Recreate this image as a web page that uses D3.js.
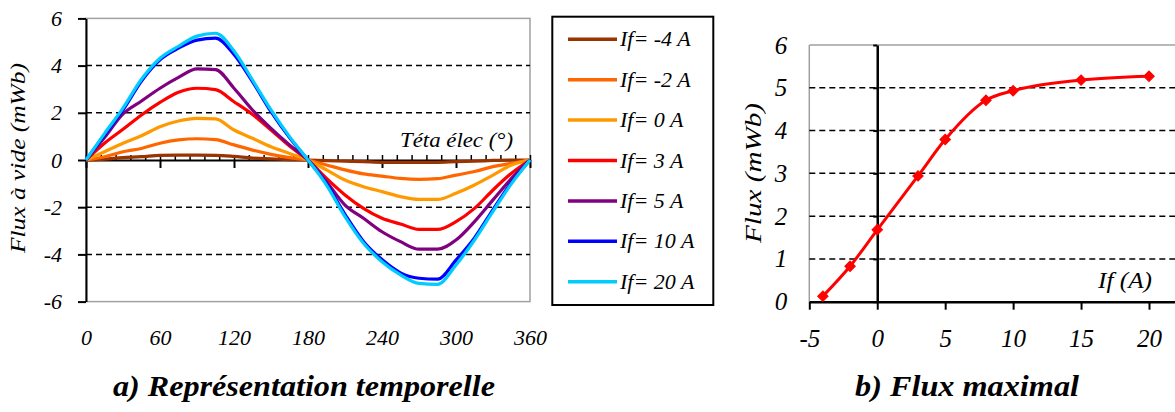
<!DOCTYPE html>
<html><head><meta charset="utf-8">
<script src="https://cdn.jsdelivr.net/npm/d3@7"></script>
<style>
body{margin:0;background:#fff}
svg{display:block}
</style>
</head><body>
<svg id="c" width="1175" height="412"></svg>
<script>
// ---- data: left chart (flux vs electrical angle) ----
const angles = [0,15,30,45,60,75,90,105,120,135,150,165,180,195,210,225,240,255,270,285,300,315,330,345,360];
const fluxIfM4 = [0,0.04,0.1,0.14,0.2,0.21,0.21,0.2,0.15,0.08,0.05,0.02,0,-0.03,-0.05,-0.07,-0.1,-0.1,-0.1,-0.1,-0.07,-0.05,-0.02,0,0];
const fluxIfM2 = [0,0.14,0.35,0.49,0.71,0.85,0.9,0.86,0.64,0.42,0.24,0.1,0,-0.21,-0.42,-0.59,-0.68,-0.78,-0.82,-0.79,-0.64,-0.49,-0.28,-0.14,0];
const fluxIf0  = [0,0.35,0.71,1.03,1.41,1.65,1.76,1.74,1.27,0.92,0.56,0.28,0,-0.42,-0.85,-1.13,-1.34,-1.55,-1.67,-1.67,-1.41,-1.06,-0.64,-0.21,0];
const fluxIf3  = [0,0.71,1.3,1.91,2.44,2.87,3.04,2.98,2.47,1.93,1.27,0.59,0,-0.78,-1.48,-2.05,-2.47,-2.71,-2.94,-2.94,-2.61,-2.05,-1.27,-0.56,0];
const fluxIf5  = [0,0.95,1.95,2.5,3.04,3.5,3.86,3.83,3.04,2.12,1.34,0.64,0,-0.92,-1.91,-2.47,-3.04,-3.46,-3.78,-3.78,-3.39,-2.61,-1.69,-0.78,0];
const fluxIf10 = [0,1.06,2.12,3.35,4.25,4.74,5.08,5.16,4.47,3.32,2.05,0.95,0,-1.0,-2.3,-3.45,-4.22,-4.78,-5.01,-5.05,-4.24,-3.3,-2.1,-0.95,0];
const fluxIf20 = [0,1.12,2.2,3.42,4.31,4.82,5.25,5.37,4.62,3.39,2.12,0.99,0,-1.06,-2.4,-3.53,-4.31,-4.87,-5.23,-5.27,-4.45,-3.39,-2.18,-1.0,0];
const seriesNames = ["If= -4 A","If= -2 A","If= 0 A","If= 3 A","If= 5 A","If= 10 A","If= 20 A"];
const seriesColors = ["#993300","#FF6600","#FF9900","#FF0000","#800080","#0000FF","#00CCFF"];
const seriesValues = [fluxIfM4,fluxIfM2,fluxIf0,fluxIf3,fluxIf5,fluxIf10,fluxIf20];
const leftXTicks = [0,60,120,180,240,300,360];
const leftYTicks = [-6,-4,-2,0,2,4,6];
const leftGrid = [-4,-2,2,4];

// ---- data: right chart (max flux vs field current) ----
const ifValues = [-4,-2,0,3,5,8,10,15,20];
const fluxMax  = [0.13,0.83,1.68,2.94,3.79,4.71,4.93,5.18,5.27];
const rightXTicks = [-5,0,5,10,15,20];
const rightYTicks = [0,1,2,3,4,5,6];
const rightGrid = [1,2,3,4,5];

const FONT = "'Liberation Serif', 'Times New Roman', serif";
const fmt = d => String(d);

const svg = d3.select("#c");
function styleText(sel, size){
  sel.attr("font-family",FONT).attr("font-style","italic").attr("font-size",size).attr("fill","#000");
}

// ===== LEFT CHART =====
const xL = d3.scaleLinear().domain([0,360]).range([86,530]);
const yL = d3.scaleLinear().domain([-6,6]).range([301.6,18.4]);

svg.append("rect").attr("x",xL(0)).attr("y",yL(6)).attr("width",xL(360)-xL(0)).attr("height",yL(-6)-yL(6))
  .attr("fill","none").attr("stroke","#a0a0a0").attr("stroke-width",1.5);

svg.append("g").selectAll("line").data(leftGrid).join("line")
  .attr("x1",xL(0)).attr("x2",xL(360)).attr("y1",d=>yL(d)).attr("y2",d=>yL(d))
  .attr("stroke","#000").attr("stroke-width",1.5).attr("stroke-dasharray","6,4");

const gYL = svg.append("g").attr("transform",`translate(${xL(0)},0)`)
  .call(d3.axisLeft(yL).tickValues(leftYTicks).tickSize(8).tickSizeOuter(0).tickPadding(16).tickFormat(fmt));
gYL.select(".domain").attr("stroke","#000").attr("stroke-width",2);
gYL.selectAll(".tick line").attr("stroke","#000").attr("stroke-width",2);
styleText(gYL.selectAll("text"),22);

const minorTicks = d3.range(0,361,12);
const gXL = svg.append("g").attr("transform",`translate(0,${yL(0)})`)
  .call(d3.axisBottom(xL).tickValues(leftXTicks).tickSize(8).tickSizeOuter(0).tickFormat(""));
gXL.select(".domain").attr("stroke","#000").attr("stroke-width",2);
gXL.selectAll(".tick line").attr("stroke","#000").attr("stroke-width",2);
const gXL2 = svg.append("g").attr("transform",`translate(0,${yL(0)})`)
  .call(d3.axisTop(xL).tickValues(minorTicks).tickSize(5).tickSizeOuter(0).tickFormat(""));
gXL2.select(".domain").remove();
gXL2.selectAll(".tick line").attr("stroke","#000").attr("stroke-width",1.5);

const gXLlab = svg.append("g").attr("transform",`translate(0,${yL(-6)})`)
  .call(d3.axisBottom(xL).tickValues(leftXTicks).tickSize(0).tickPadding(28).tickFormat(fmt));
gXLlab.select(".domain").remove();
styleText(gXLlab.selectAll("text"),22);

const lineL = d3.line().x((d,i)=>xL(angles[i])).y(d=>yL(d)).curve(d3.curveMonotoneX);
svg.append("g").selectAll("path").data(seriesValues).join("path")
  .attr("d",d=>lineL(d)).attr("fill","none")
  .attr("stroke",(d,i)=>seriesColors[i]).attr("stroke-width",3.2).attr("stroke-linejoin","round");

styleText(svg.append("text").attr("transform",`translate(25,158) rotate(-90)`).attr("text-anchor","middle")
  .attr("textLength",190).attr("lengthAdjust","spacingAndGlyphs").text("Flux à vide (mWb)"),21);
styleText(svg.append("text").attr("x",513).attr("y",147).attr("text-anchor","end")
  .attr("textLength",113).attr("lengthAdjust","spacingAndGlyphs").text("Téta élec (°)"),22);

svg.append("rect").attr("x",552.3).attr("y",16.7).attr("width",161).attr("height",288.3)
  .attr("fill","#fff").attr("stroke","#000").attr("stroke-width",2);
const leg = svg.append("g").selectAll("g").data(seriesNames).join("g")
  .attr("transform",(d,i)=>`translate(568,${39.3+i*40.4})`);
leg.append("line").attr("x1",0).attr("x2",49).attr("y1",0).attr("y2",0)
  .attr("stroke",(d,i)=>seriesColors[i]).attr("stroke-width",3.5);
styleText(leg.append("text").attr("x",52).attr("y",7).text(d=>d),22);

// ===== RIGHT CHART =====
const xR = d3.scaleLinear().domain([-5,22]).range([809.3,809.3+27*13.588]);
const yR = d3.scaleLinear().domain([0,6]).range([301.7,45]);

svg.append("line").attr("x1",xR(-5)).attr("x2",1175).attr("y1",yR(6)).attr("y2",yR(6)).attr("stroke","#a0a0a0").attr("stroke-width",1.5);
svg.append("line").attr("x1",xR(-5)).attr("x2",xR(-5)).attr("y1",yR(6)).attr("y2",yR(0)).attr("stroke","#a0a0a0").attr("stroke-width",1.5);

svg.append("g").selectAll("line").data(rightGrid).join("line")
  .attr("x1",xR(-5)).attr("x2",1175).attr("y1",d=>yR(d)).attr("y2",d=>yR(d))
  .attr("stroke","#000").attr("stroke-width",1.5).attr("stroke-dasharray","6,4");

const gYR = svg.append("g").attr("transform",`translate(${xR(0)},0)`)
  .call(d3.axisLeft(yR).tickValues(rightYTicks).tickSize(4).tickSizeOuter(0).tickFormat(""));
gYR.select(".domain").attr("stroke","#000").attr("stroke-width",2.5);
gYR.selectAll(".tick line").attr("stroke","#000").attr("stroke-width",2);
const gYRlab = svg.append("g").attr("transform",`translate(${xR(-5)},0)`)
  .call(d3.axisLeft(yR).tickValues(rightYTicks).tickSize(0).tickPadding(22).tickFormat(fmt));
gYRlab.select(".domain").remove();
styleText(gYRlab.selectAll("text"),25);

const gXR = svg.append("g").attr("transform",`translate(0,${yR(0)})`)
  .call(d3.axisBottom(xR).tickValues(rightXTicks).tickSize(8).tickSizeOuter(0).tickPadding(20).tickFormat(fmt));
gXR.select(".domain").attr("stroke","#000").attr("stroke-width",2.5);
gXR.selectAll(".tick line").attr("stroke","#000").attr("stroke-width",2);
styleText(gXR.selectAll("text"),25);

const lineR = d3.line().x((d,i)=>xR(ifValues[i])).y(d=>yR(d)).curve(d3.curveMonotoneX);
svg.append("path").attr("d",lineR(fluxMax)).attr("fill","none").attr("stroke","#FF0000").attr("stroke-width",3);
svg.append("g").selectAll("path").data(fluxMax).join("path")
  .attr("transform",(d,i)=>`translate(${xR(ifValues[i])},${yR(d)}) rotate(45)`)
  .attr("d",d3.symbol(d3.symbolSquare,55)()).attr("fill","#FF0000").attr("stroke","#FF0000").attr("stroke-width",1);

styleText(svg.append("text").attr("transform",`translate(761,173) rotate(-90)`).attr("text-anchor","middle")
  .attr("textLength",140).attr("lengthAdjust","spacingAndGlyphs").text("Flux  (mWb)"),23);
styleText(svg.append("text").attr("x",1152).attr("y",288).attr("text-anchor","end")
  .attr("textLength",54).attr("lengthAdjust","spacingAndGlyphs").text("If (A)"),24);

styleText(svg.append("text").attr("x",113).attr("y",396).attr("font-weight","bold")
  .attr("textLength",382).attr("lengthAdjust","spacingAndGlyphs").text("a) Représentation temporelle"),29);
styleText(svg.append("text").attr("x",855).attr("y",396).attr("font-weight","bold")
  .attr("textLength",224).attr("lengthAdjust","spacingAndGlyphs").text("b) Flux maximal"),29);
</script>
</body></html>
